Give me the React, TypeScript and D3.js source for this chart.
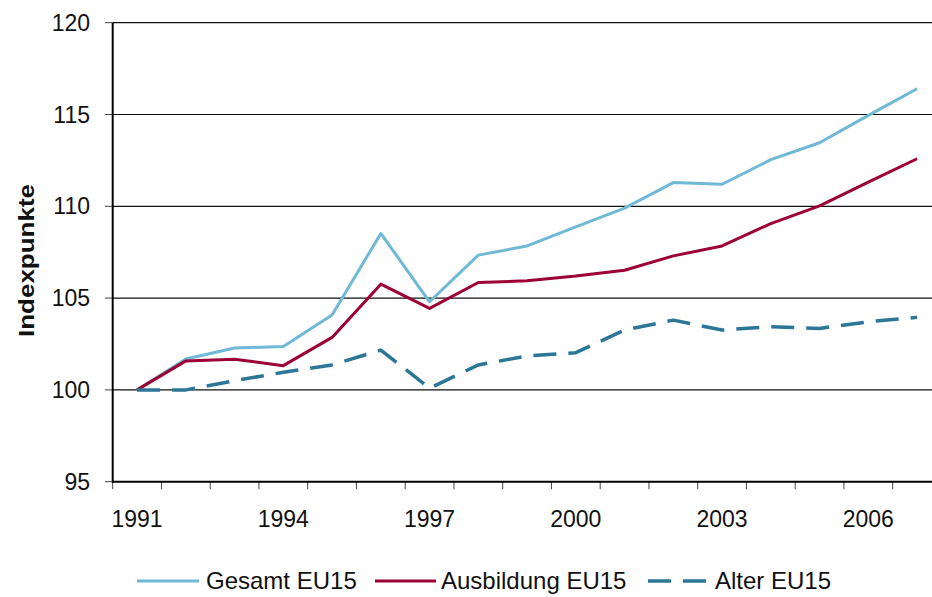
import React from "react";
import * as d3 from "d3";

const years = [1991, 1992, 1993, 1994, 1995, 1996, 1997, 1998, 1999, 2000, 2001, 2002, 2003, 2004, 2005, 2006, 2007];
const gesamt = [100, 101.68, 102.28, 102.37, 104.08, 108.52, 104.8, 107.34, 107.84, 108.88, 109.9, 111.29, 111.2, 112.54, 113.46, 114.95, 116.4];
const ausbildung = [100, 101.58, 101.67, 101.32, 102.86, 105.76, 104.44, 105.85, 105.94, 106.2, 106.52, 107.3, 107.84, 109.06, 110.02, 111.32, 112.59];
const alter = [100, 100, 100.5, 100.96, 101.36, 102.17, 100.09, 101.36, 101.85, 102.03, 103.26, 103.8, 103.26, 103.44, 103.35, 103.71, 103.95];
const yTicks = [95, 100, 105, 110, 115, 120];
const xLabelYears = [1991, 1994, 1997, 2000, 2003, 2006];

const seriesList = [
  { name: "Gesamt EU15", values: gesamt, color: "#6fb8d6", dash: "", width: 3 },
  { name: "Ausbildung EU15", values: ausbildung, color: "#9c0036", dash: "", width: 3 },
  { name: "Alter EU15", values: alter, color: "#2c7697", dash: "23 12", width: 3.5 },
];

const W = 932;
const H = 597;
const left = 112.7;
const bw = 48.75;
const font = "'Liberation Sans', Arial, sans-serif";

export default function App() {
  const x = d3.scaleBand<number>().domain(years).range([left, left + bw * years.length]).padding(0);
  const y = d3.scaleLinear().domain([95, 120]).range([481.7, 22.7]);
  const cx = (yr: number) => (x(yr) as number) + x.bandwidth() / 2;
  const line = d3
    .line<number>()
    .x((_, i) => cx(years[i]))
    .y((v) => y(v));

  const legendItems = [
    { x1: 137, x2: 199, tx: 206 },
    { x1: 375, x2: 436, tx: 441 },
    { x1: 648, x2: 708, tx: 715 },
  ];

  return (
    <svg
      width={W}
      height={H}
      style={{ position: "absolute", left: 0, top: 0, background: "#fff" }}
      fontFamily={font}
    >
      <rect x={0} y={0} width={W} height={H} fill="#fff" />
      {/* gridlines */}
      {yTicks.slice(1).map((t) => (
        <line key={t} x1={left} x2={W} y1={y(t)} y2={y(t)} stroke="#111" strokeWidth={1.2} />
      ))}
      {/* y ticks and labels */}
      {yTicks.map((t) => (
        <g key={"yt" + t}>
          <line x1={105} x2={left} y1={y(t)} y2={y(t)} stroke="#444" strokeWidth={1} />
          <text x={90} y={y(t)} dy="0.35em" textAnchor="end" fontSize={23} fill="#111">
            {t}
          </text>
        </g>
      ))}
      {/* x ticks */}
      {years.map((yr) => (
        <line key={"xt" + yr} x1={x(yr) as number} x2={x(yr) as number} y1={y(95)} y2={y(95) + 7.5} stroke="#444" strokeWidth={1} />
      ))}
      {xLabelYears.map((yr) => (
        <text key={"xl" + yr} x={cx(yr)} y={527} textAnchor="middle" fontSize={23} fill="#111">
          {yr}
        </text>
      ))}
      {/* axes */}
      <line x1={left} x2={left} y1={y(120)} y2={y(95) + 1} stroke="#000" strokeWidth={2} />
      <line x1={left} x2={W} y1={y(95)} y2={y(95)} stroke="#000" strokeWidth={2} />
      {/* y title */}
      <text
        transform={`translate(33.5,260.5) rotate(-90)`}
        textAnchor="middle"
        fontSize={22}
        fontWeight="bold"
        fill="#111"
        textLength={153}
        lengthAdjust="spacingAndGlyphs"
      >
        Indexpunkte
      </text>
      {/* series */}
      {seriesList.map((s) => (
        <path
          key={s.name}
          d={line(s.values) || ""}
          fill="none"
          stroke={s.color}
          strokeWidth={s.width}
          strokeDasharray={s.dash || undefined}
          strokeLinejoin="round"
        />
      ))}
      {/* legend */}
      {seriesList.map((s, i) => (
        <g key={"lg" + s.name}>
          <line
            x1={legendItems[i].x1}
            x2={legendItems[i].x2}
            y1={581}
            y2={581}
            stroke={s.color}
            strokeWidth={s.width}
            strokeDasharray={s.dash || undefined}
          />
          <text x={legendItems[i].tx} y={581} dy="0.35em" fontSize={24} fill="#111">
            {s.name}
          </text>
        </g>
      ))}
    </svg>
  );
}
